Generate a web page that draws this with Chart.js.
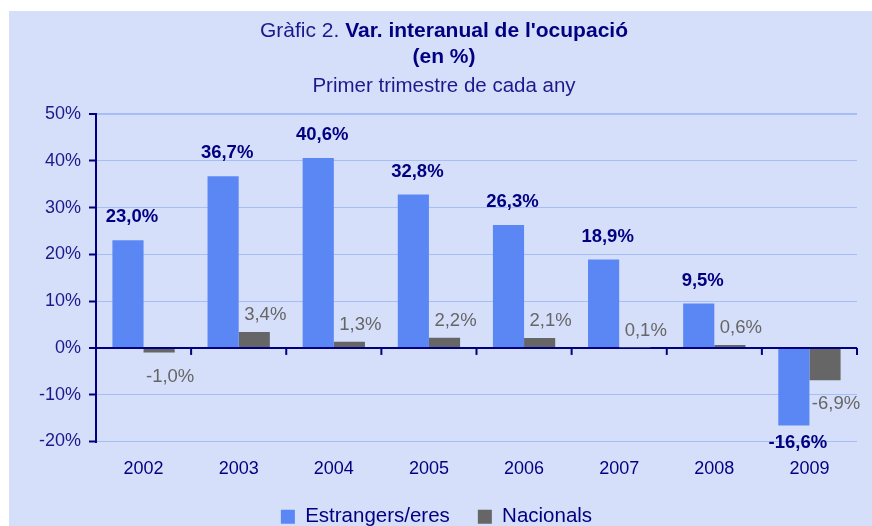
<!DOCTYPE html>
<html>
<head>
<meta charset="utf-8">
<script src="https://cdn.jsdelivr.net/npm/chart.js@4.4.1/dist/chart.umd.min.js"></script>
<style>
  html, body { margin: 0; padding: 0; background: #fff; }
  #wrap { position: absolute; left: 9px; top: 11px; width: 863px; height: 515px; background: #d6dffa; overflow: hidden; }
  #title { position: absolute; left: 8px; top: 0; width: 872px; text-align: center; color: #000080;
           font-family: "Liberation Sans", Arial, sans-serif; font-size: 21px; line-height: 26px; }
  canvas { position: absolute; left: -9px; top: -11px; }
</style>
</head>
<body>
<div id="wrap">
  <canvas id="c" width="872" height="537"></canvas>
</div>
<div id="title">
  <div style="margin-top:17px"><span style="color:#1a1a8c">Gràfic 2.</span> <b>Var. interanual de l'ocupació</b></div>
  <div><b>(en %)</b></div>
  <div style="margin-top:3px;color:#1a1a8c;font-size:20.5px">Primer trimestre de cada any</div>
</div>
<script>
const NAVY = "#000080", BLUE = "#5b87f5", GREY = "#666666", GRID = "#a6bdf6";
const FONT = "'Liberation Sans', Arial, sans-serif";

const years = ["2002", "2003", "2004", "2005", "2006", "2007", "2008", "2009"];
const estrangers = [23.0, 36.7, 40.6, 32.8, 26.3, 18.9, 9.5, -16.6];
const nacionals = [-1.0, 3.4, 1.3, 2.2, 2.1, 0.1, 0.6, -6.9];
const yTicks = [50, 40, 30, 20, 10, 0, -10, -20];

const fmt = v => v.toFixed(1).replace(".", ",") + "%";

// value labels + small ticks on the zero line
const extras = {
  id: "extras",
  afterDatasetsDraw(chart) {
    const {ctx, chartArea, scales} = chart;
    const y0 = scales.y.getPixelForValue(0);
    const step = (chartArea.right - chartArea.left) / years.length;
    ctx.save();
    ctx.strokeStyle = NAVY;
    ctx.lineWidth = 2;
    for (let i = 1; i <= years.length; i++) {
      const x = chartArea.left + i * step;
      ctx.beginPath(); ctx.moveTo(x, y0); ctx.lineTo(x, y0 + 7); ctx.stroke();
    }
    ctx.textAlign = "center";
    ctx.textBaseline = "middle";
    chart.data.datasets.forEach((ds, di) => {
      chart.getDatasetMeta(di).data.forEach((bar, i) => {
        const v = ds.data[i];
        let dy;
        if (di === 0) dy = v >= 0 ? -23 : 17;
        else dy = v >= 0 ? -17 : 24;
        ctx.font = di === 0 ? "bold 18.5px " + FONT : "18.5px " + FONT;
        ctx.fillStyle = di === 0 ? NAVY : GREY;
        ctx.fillText(fmt(v), bar.x + (di === 0 ? 4 : 11), bar.y + dy);
      });
    });
    ctx.restore();
  }
};

new Chart(document.getElementById("c"), {
  type: "bar",
  data: {
    labels: years,
    datasets: [
      {label: "Estrangers/eres", data: estrangers, backgroundColor: BLUE, categoryPercentage: 0.655, barPercentage: 1},
      {label: "Nacionals", data: nacionals, backgroundColor: GREY, categoryPercentage: 0.655, barPercentage: 1}
    ]
  },
  options: {
    responsive: false,
    animation: false,
    layout: {padding: {top: 114, right: 15, left: 16, bottom: 0}},
    plugins: {
      tooltip: {enabled: false},
      legend: {
        position: "bottom",
        labels: {color: NAVY, font: {family: FONT, size: 20.5}, boxWidth: 14, boxHeight: 14, padding: 28}
      }
    },
    scales: {
      x: {
        grid: {display: true, drawTicks: false, color: c => c.index === years.length ? GRID : "rgba(0,0,0,0)", lineWidth: 2},
        border: {display: false},
        ticks: {color: NAVY, font: {family: FONT, size: 18}, padding: 17},
        afterFit: s => { s.height = 37; }
      },
      y: {
        min: -20, max: 50,
        afterBuildTicks: s => { s.ticks = yTicks.map(v => ({value: v})); },
        grid: {
          color: c => c.tick.value === 0 ? NAVY : GRID,
          lineWidth: c => (c.tick.value === 0 || c.tick.value === 50) ? 2 : 1,
          tickColor: NAVY, tickLength: 7, tickWidth: 2
        },
        border: {display: true, color: NAVY, width: 2},
        ticks: {color: "#1a1a8c", font: {family: FONT, size: 18}, padding: 8, callback: v => v + "%"},
        afterFit: s => { s.width = 80; }
      }
    }
  },
  plugins: [extras]
});
</script>
</body>
</html>
